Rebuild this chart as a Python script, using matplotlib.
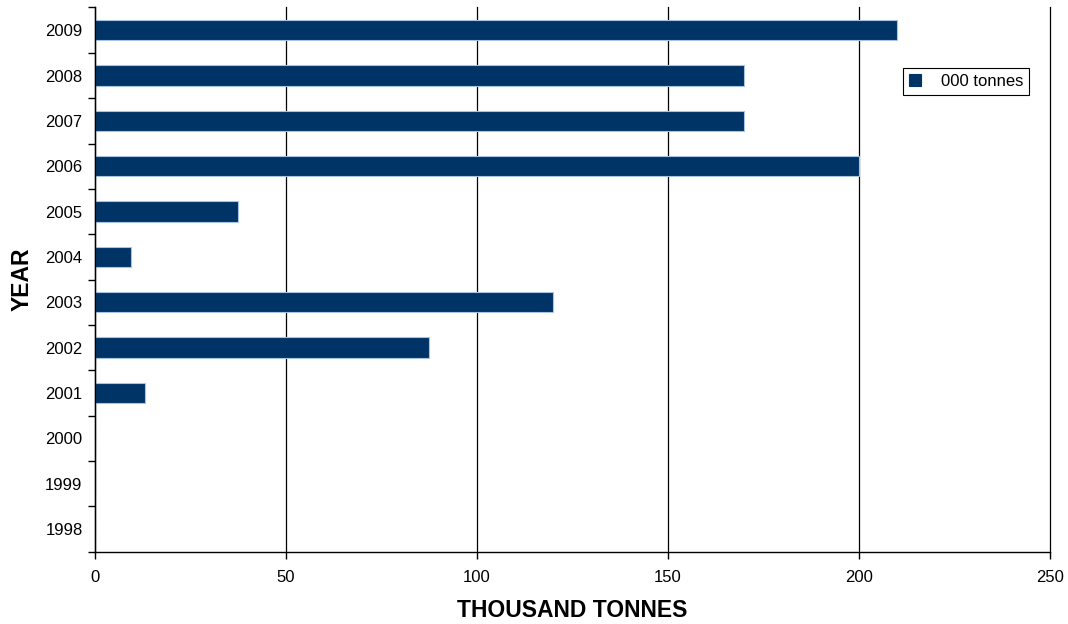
import matplotlib
matplotlib.use("Agg")
import matplotlib.pyplot as plt
import numpy as np

# Annual volumes, thousand tonnes
years = ["1998", "1999", "2000", "2001", "2002", "2003",
         "2004", "2005", "2006", "2007", "2008", "2009"]
tonnes = [0, 0, 0, 13, 87.5, 120, 9.5, 37.5, 200, 170, 170, 210]
x_ticks = [0, 50, 100, 150, 200, 250]
series_name = "000 tonnes"

plt.rcParams["font.family"] = ["Liberation Sans", "DejaVu Sans"]

fig = plt.figure(figsize=(10.68, 6.24), dpi=100)
ax = fig.add_axes([0.089, 0.1159, 0.8942, 0.8721])

pos = np.arange(len(years))
ax.barh(pos, tonnes, height=0.45, color="#003366", edgecolor="#a9c4e0",
        linewidth=0.8, label=series_name, zorder=3)

ax.set_xlim(0, 250)
ax.set_ylim(-0.5, len(years) - 0.5)

ax.set_xticks(x_ticks)
ax.set_xticklabels([str(v) for v in x_ticks])
ax.xaxis.grid(True, color="black", linewidth=0.9, zorder=1)
for gl in ax.get_xgridlines():
    gl.set_clip_on(False)

# category labels at bar centres, tick marks at category boundaries
ax.set_yticks(pos)
ax.set_yticklabels(years)
ax.set_yticks(np.arange(len(years) + 1) - 0.5, minor=True)
ax.tick_params(axis="y", which="major", length=0, pad=9, labelsize=12)
ax.tick_params(axis="y", which="minor", length=5, width=1, direction="out")
ax.tick_params(axis="x", which="major", length=5, width=1, direction="out",
               pad=8.5, labelsize=12)

for side in ("top", "right"):
    ax.spines[side].set_visible(False)
for side in ("left", "bottom"):
    ax.spines[side].set_linewidth(1)
    ax.spines[side].set_zorder(4)

ax.set_xlabel("THOUSAND TONNES", fontsize=16.5, fontweight="bold", labelpad=10)
ax.set_ylabel("YEAR", fontsize=16.5, fontweight="bold", labelpad=8)

leg = ax.legend(loc="upper right", bbox_to_anchor=(0.978, 0.889),
                borderaxespad=0, fancybox=False, framealpha=1,
                edgecolor="black", fontsize=12, handlelength=0.7,
                handleheight=0.7, handletextpad=1.2, borderpad=0.35)
leg.get_frame().set_linewidth(0.8)
for h in leg.legend_handles:
    h.set_edgecolor("#003366")

fig.savefig("out.png", dpi=100)
